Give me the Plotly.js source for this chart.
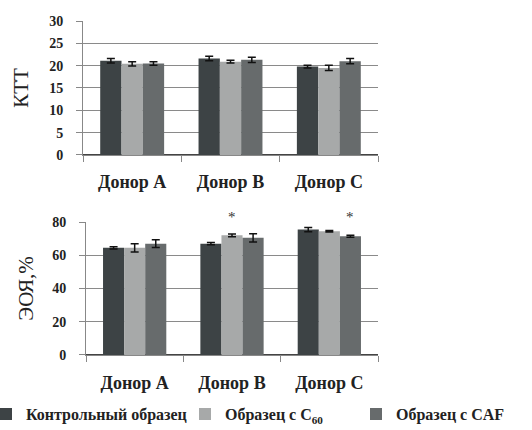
<!DOCTYPE html>
<html><head><meta charset="utf-8">
<script src="https://cdn.plot.ly/plotly-3.0.1.min.js"></script>
<style>body{margin:0;background:#fff}#c{width:532px;height:430px}</style>
</head><body><div id="c"></div>
<script>
const donors = ['Донор А', 'Донор В', 'Донор С'];
const seriesNames = ['Контрольный образец', 'Образец с C<sub>60</sub>', 'Образец с CAF'];
const colors = ['#3d4345', '#a7a9a9', '#676b6c'];
// KTT
const ktt = [[21.1, 21.6, 19.8], [20.4, 20.9, 19.5], [20.5, 21.3, 21.0]];
const kttErr = [[0.5, 0.5, 0.3], [0.5, 0.3, 0.6], [0.4, 0.6, 0.6]];
// EOYa, %
const eoya = [[64.5, 67.0, 75.5], [64.5, 72.0, 74.5], [67.0, 70.5, 71.5]];
const eoyaErr = [[0.7, 0.7, 1.3], [2.5, 0.8, 0.5], [2.3, 2.5, 0.6]];
// significance marks: [seriesIndex, donorIndex]
const stars = [[1, 1], [2, 2]];

const SERIF = 'Liberation Serif';
const bargap = 0.35;
const legendIds = ['legend', 'legend2', 'legend3'];
const traces = [];
for (let s = 0; s < 3; s++) {
  traces.push({type:'bar', x:donors, y:ktt[s], name:seriesNames[s], xaxis:'x', yaxis:'y',
    marker:{color:colors[s]}, showlegend:true, legend:legendIds[s], legendgroup:'g'+s,
    error_y:{type:'data', array:kttErr[s], visible:true, color:'#111', thickness:1.5, width:4}});
}
for (let s = 0; s < 3; s++) {
  traces.push({type:'bar', x:donors, y:eoya[s], name:seriesNames[s], xaxis:'x2', yaxis:'y2',
    marker:{color:colors[s]}, showlegend:false, legendgroup:'g'+s,
    error_y:{type:'data', array:eoyaErr[s], visible:true, color:'#111', thickness:1.5, width:4}});
}
const w = (1 - bargap) / 3;
const annotations = stars.map(([s, d]) => ({
  xref:'x2', yref:'y2 domain', x: d + (s - 1) * w, y: 1.04, yanchor:'middle',
  text:'*', showarrow:false, font:{family:SERIF, size:15, color:'#333'}
}));

const W = 532;
const tickFontY = {family:SERIF, size:14, color:'#222', weight:'bold'};
const tickFontX = {family:SERIF, size:18, color:'#222', weight:'bold'};
const titleFont = {family:SERIF, size:21, color:'#222'};
const legendFont = {family:SERIF, size:16, color:'#222', weight:'bold'};
const axisCommon = {showline:true, linecolor:'#888', linewidth:1, ticks:'outside', tickcolor:'#888', ticklen:6};
const legBase = {orientation:'h', xanchor:'left', y:-0.177, yanchor:'middle', font:legendFont, itemwidth:30, bgcolor:'rgba(0,0,0,0)'};
const layout = {
  width:W, height:430, paper_bgcolor:'#fff', plot_bgcolor:'#fff',
  margin:{l:0, r:0, t:21, b:75, autoexpand:false},
  barmode:'group', bargap:bargap, bargroupgap:0,
  font:{family:SERIF, color:'#222'},
  xaxis:Object.assign({}, axisCommon, {anchor:'y', domain:[83/W, 378/W], tickson:'boundaries', tickfont:tickFontX, ticklabelstandoff:10}),
  yaxis:Object.assign({}, axisCommon, {anchor:'x', domain:[0.599, 1], range:[0, 30], dtick:5, showgrid:true, gridcolor:'#8a8a8a', gridwidth:1,
    tickfont:tickFontY, ticklabelstandoff:10, title:{text:'КТТ', font:titleFont, standoff:14}}),
  xaxis2:Object.assign({}, axisCommon, {anchor:'y2', domain:[86/W, 378/W], tickson:'boundaries', tickfont:tickFontX, ticklabelstandoff:11}),
  yaxis2:Object.assign({}, axisCommon, {anchor:'x2', domain:[0, 0.398], range:[0, 80], dtick:20, showgrid:true, gridcolor:'#8a8a8a', gridwidth:1,
    tickfont:tickFontY, ticklabelstandoff:10, title:{text:'ЭОЯ,%', font:titleFont, standoff:12}}),
  legend:Object.assign({}, legBase, {x:-14/W}),
  legend2:Object.assign({}, legBase, {x:185/W}),
  legend3:Object.assign({}, legBase, {x:356/W}),
  annotations:annotations
};
Plotly.newPlot('c', traces, layout, {displayModeBar:false, staticPlot:true});
</script></body></html>
